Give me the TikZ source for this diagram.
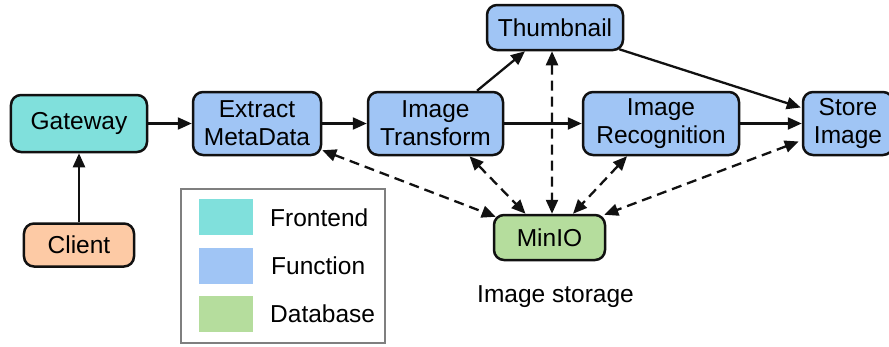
\documentclass[tikz,border=0pt]{standalone}
\usepackage{fontspec}
\setmainfont{Liberation Sans}
\usetikzlibrary{arrows.meta,calc}

\definecolor{frontc}{HTML}{80E0DC}
\definecolor{funcc}{HTML}{A0C5F5}
\definecolor{dbc}{HTML}{B5DD9D}
\definecolor{clientc}{HTML}{FDCAA5}
\definecolor{inkc}{HTML}{111111}
\definecolor{framec}{HTML}{7F7F7F}

\tikzset{
  box/.style={draw=inkc, line width=2.5bp, rounded corners=10bp, align=center,
    inner sep=0pt, font=\fontsize{24.5bp}{28bp}\selectfont},
  frontbox/.style={box, fill=frontc},
  funcbox/.style={box, fill=funcc},
  dbbox/.style={box, fill=dbc},
  clientbox/.style={box, fill=clientc},
  flow/.style={draw=inkc, line width=2.3bp, -{Triangle[length=14bp,width=12bp]}},
  storeflow/.style={draw=inkc, line width=2.3bp, dash pattern=on 10bp off 6bp,
    {Triangle[length=14bp,width=12bp]}-{Triangle[length=14bp,width=12bp]}},
  swatch/.style={draw=none, minimum width=54bp, minimum height=36bp, inner sep=0pt},
  plain/.style={inner sep=0pt, font=\fontsize{24.5bp}{28bp}\selectfont},
}

\begin{document}
\begin{tikzpicture}[x=1bp,y=-1bp]
\useasboundingbox (0,0) rectangle (889,346);
\clip (0,0) rectangle (889,346);

% pipeline nodes
\node[frontbox, minimum width=136bp, minimum height=57bp] (gateway) at (79,123.5) {Gateway};
\node[clientbox, minimum width=110bp, minimum height=43bp] (client) at (79,245) {Client};
\node[funcbox, minimum width=128bp, minimum height=63bp] (extract) at (257,123.5) {Extract\\MetaData};
\node[funcbox, minimum width=135bp, minimum height=63bp] (transform) at (435.5,123.5) {Image\\Transform};
\node[funcbox, minimum width=136bp, minimum height=45bp] (thumb) at (555,27.5) {Thumbnail};
\node[funcbox, minimum width=156bp, minimum height=63bp] (recog) at (661,123.5) {Image\\Recognition};
\node[funcbox, minimum width=90bp, minimum height=63bp] (store) at (848,123.5) {Store\\Image};
\node[dbbox, minimum width=111bp, minimum height=45bp] (minio) at (549.5,237.5) {MinIO};
\node[plain, anchor=base] (storagelabel) at (555.5,302) {Image storage};

% request flow
\draw[flow] (client.north) -- (gateway.south);
\draw[flow] (gateway.east) -- (extract.west);
\draw[flow] (extract.east) -- (transform.west);
\draw[flow] (transform.east) -- (recog.west);
\draw[flow] (recog.east) -- (store.west);
\draw[flow] ([shift={(41.5,0)}]transform.north) -- ([shift={(-30,0)}]thumb.south);
\draw[flow] ([shift={(-5,-2)}]thumb.south east) -- ([shift={(-1,-16)}]store.west);

% object storage access
\draw[storeflow] ([shift={(0,-6)}]extract.south east) -- ([shift={(3,3)}]minio.north west);
\draw[storeflow] ([shift={(34,0)}]transform.south) -- ([shift={(-24,0)}]minio.north);
\draw[storeflow] ([shift={(-3,0)}]thumb.south) -- ([shift={(2.5,0)}]minio.north);
\draw[storeflow] ([shift={(-34,0)}]recog.south) -- ([shift={(23.5,0)}]minio.north);
\draw[storeflow] ([shift={(-3,18)}]store.west) -- ([shift={(-2,1)}]minio.north east);

% legend
\node[draw=framec, line width=2bp, minimum width=204bp, minimum height=154bp, inner sep=0pt] (legend) at (283,266) {};
\node[swatch, fill=frontc] (swfront) at (226,216.5) {};
\node[swatch, fill=funcc] (swfunc) at (226,266) {};
\node[swatch, fill=dbc] (swdb) at (226,314) {};
\node[plain, anchor=base west] (lgfront) at (270,226) {Frontend};
\node[plain, anchor=base west] (lgfunc) at (271,274) {Function};
\node[plain, anchor=base west] (lgdb) at (270,322) {Database};
\end{tikzpicture}
\end{document}
